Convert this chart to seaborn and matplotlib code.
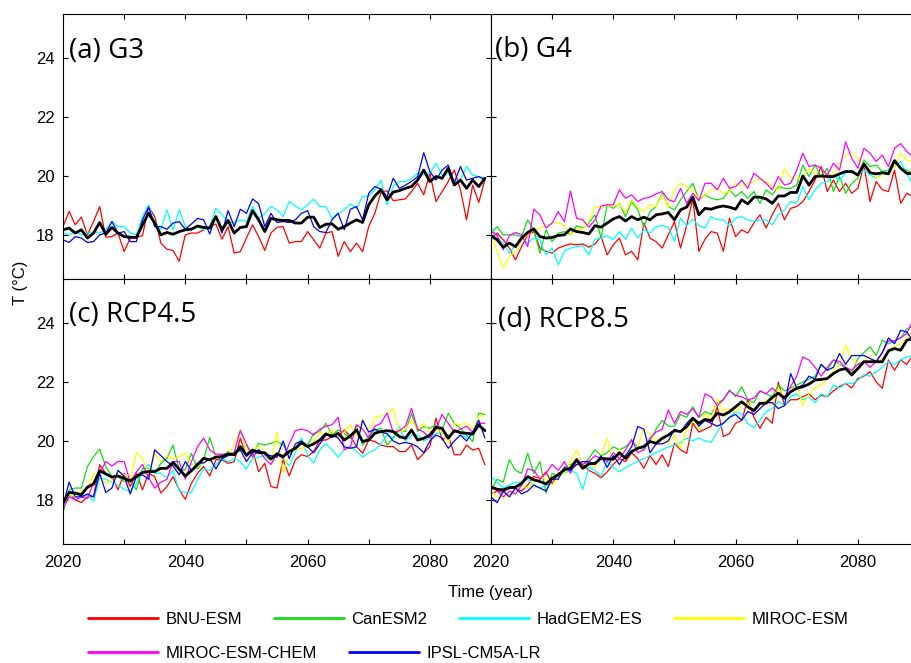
import numpy as np
import pandas as pd
import matplotlib
matplotlib.use("Agg")
import matplotlib.pyplot as plt
import seaborn as sns

# ---------------- data ----------------
years = list(range(2020, 2090))
models = ["BNU-ESM", "CanESM2", "HadGEM2-ES", "MIROC-ESM", "MIROC-ESM-CHEM", "IPSL-CM5A-LR"]
colors = ["#ff0000", "#11dd11", "#00ffff", "#ffff00", "#ff00ff", "#0000ff"]
panel_titles = ["(a) G3", "(b) G4", "(c) RCP4.5", "(d) RCP8.5"]
xtick_labels = ["2020", "", "2040", "", "2060", "", "2080", ""]
ytick_values = [18, 20, 22, 24]

# G3
g3_bnu = [18.28, 18.80, 18.34, 18.60, 18.00, 18.45, 18.96, 17.92, 17.94, 18.06,
          17.43, 17.89, 17.92, 17.97, 18.96, 18.62, 17.72, 17.51, 17.47, 17.10,
          18.00, 18.06, 18.06, 18.17, 18.28, 18.37, 17.85, 18.28, 17.38, 17.43,
          17.89, 18.34, 17.94, 17.47, 18.06, 18.26, 18.28, 17.72, 17.77, 17.77,
          18.11, 17.83, 17.55, 18.06, 18.11, 17.27, 17.77, 17.43, 17.72, 17.43,
          18.28, 18.73, 19.44, 19.50, 19.16, 19.19, 19.22, 19.47, 19.75, 19.36,
          20.09, 19.13, 19.47, 19.81, 20.20, 19.53, 18.51, 19.69, 19.10, 19.86]
g3_had = [18.06, 18.00, 18.11, 18.00, 18.06, 18.11, 18.06, 18.17, 18.45, 18.28,
          18.28, 18.06, 18.00, 18.62, 19.02, 18.40, 18.17, 18.85, 18.17, 18.85,
          18.28, 18.17, 18.28, 18.17, 18.28, 18.90, 18.68, 18.45, 18.40, 18.51,
          18.45, 18.96, 18.56, 18.73, 18.96, 18.85, 18.62, 19.13, 18.98, 18.85,
          19.02, 19.21, 18.96, 18.96, 18.56, 18.73, 18.85, 19.05, 18.90, 19.30,
          19.32, 19.53, 19.86, 19.02, 19.64, 19.81, 19.81, 19.92, 20.09, 20.03,
          20.09, 20.43, 20.03, 20.09, 19.81, 19.86, 20.32, 20.03, 19.98, 19.92]
g3_ipsl = [17.83, 17.74, 17.94, 17.89, 17.74, 17.77, 18.00, 18.06, 18.45, 18.06,
           18.11, 17.77, 17.77, 18.51, 18.94, 18.28, 18.28, 18.19, 18.40, 18.45,
           18.19, 18.37, 18.56, 18.51, 18.03, 18.64, 18.06, 18.82, 18.28, 18.87,
           18.73, 19.22, 19.05, 18.28, 18.73, 18.42, 18.45, 18.42, 18.51, 18.73,
           18.82, 18.28, 18.11, 18.08, 18.51, 18.73, 18.17, 18.87, 18.96, 18.51,
           19.41, 19.64, 19.55, 19.30, 19.92, 19.58, 19.69, 19.81, 19.98, 20.79,
           20.15, 19.86, 20.20, 20.37, 19.77, 20.32, 19.86, 19.92, 19.98, 19.86]
g3_mean = [18.17, 18.23, 18.06, 18.17, 17.89, 18.06, 18.42, 18.02, 18.25, 18.06,
           17.94, 17.92, 17.91, 18.34, 18.73, 18.40, 18.00, 18.08, 18.02, 18.11,
           18.17, 18.19, 18.30, 18.25, 18.23, 18.62, 18.17, 18.49, 18.06, 18.25,
           18.28, 18.82, 18.51, 18.11, 18.56, 18.51, 18.49, 18.49, 18.40, 18.40,
           18.60, 18.60, 18.25, 18.36, 18.37, 18.19, 18.28, 18.40, 18.51, 18.42,
           19.02, 19.32, 19.53, 19.19, 19.45, 19.50, 19.58, 19.64, 19.86, 20.20,
           19.81, 19.98, 19.92, 20.26, 19.69, 19.86, 19.58, 19.86, 19.64, 19.92]

# G4
g4_bnu = [17.89, 18.06, 17.83, 17.55, 17.15, 17.60, 18.00, 18.11, 17.55, 17.44,
          17.38, 17.55, 17.63, 17.69, 17.66, 17.69, 17.58, 17.69, 17.94, 17.32,
          17.66, 17.89, 17.32, 17.44, 17.15, 18.40, 17.89, 17.77, 17.55, 18.00,
          18.45, 17.55, 18.31, 19.24, 17.44, 17.85, 18.11, 18.06, 17.44, 18.56,
          17.94, 18.17, 18.06, 18.40, 18.68, 18.23, 18.68, 19.07, 18.51, 18.90,
          18.96, 19.13, 19.47, 19.86, 20.32, 19.47, 19.86, 19.47, 19.75, 19.41,
          19.58, 20.37, 19.13, 19.81, 19.53, 19.47, 20.20, 19.07, 19.41, 19.30]
g4_can = [18.06, 18.28, 18.00, 18.00, 18.00, 17.94, 18.51, 18.17, 17.38, 18.17,
          17.77, 18.06, 18.11, 18.00, 18.31, 18.23, 18.40, 18.68, 17.89, 19.02,
          18.90, 19.07, 18.62, 19.13, 18.85, 18.28, 18.79, 18.96, 19.41, 18.96,
          18.85, 19.19, 19.47, 19.75, 19.19, 19.36, 19.24, 19.19, 19.24, 19.53,
          19.30, 19.47, 19.24, 19.47, 19.07, 19.53, 19.36, 19.64, 19.58, 19.58,
          19.69, 20.37, 19.98, 20.37, 19.98, 20.26, 19.47, 19.98, 19.41, 19.75,
          19.92, 20.54, 20.32, 20.37, 20.15, 20.20, 20.54, 20.26, 20.20, 20.09]
g4_had = [18.23, 17.89, 17.72, 17.38, 17.66, 17.89, 17.72, 17.89, 17.83, 17.32,
          17.55, 16.98, 17.44, 17.55, 17.60, 17.63, 17.32, 17.85, 17.89, 17.97,
          17.83, 18.11, 17.85, 18.23, 17.89, 18.17, 18.06, 18.28, 18.31, 18.26,
          17.77, 18.56, 18.31, 18.53, 18.31, 18.23, 18.62, 18.51, 18.51, 18.31,
          18.56, 18.62, 18.51, 18.45, 18.51, 18.51, 18.34, 18.68, 18.85, 19.13,
          19.07, 19.64, 19.19, 19.53, 19.75, 19.81, 20.03, 19.86, 20.09, 20.20,
          20.03, 20.20, 20.03, 19.92, 20.09, 20.20, 20.32, 20.49, 20.09, 19.69]
g4_miroc = [17.94, 17.44, 16.87, 17.27, 17.44, 17.83, 18.00, 18.17, 18.23, 18.31,
            18.40, 18.42, 18.31, 18.00, 18.17, 18.19, 18.45, 18.96, 18.90, 19.02,
            18.96, 19.05, 18.76, 19.19, 18.94, 18.79, 19.02, 18.96, 19.36, 18.94,
            19.53, 19.75, 19.64, 19.47, 19.24, 19.36, 19.53, 19.58, 19.41, 19.47,
            19.75, 19.64, 19.75, 19.81, 19.92, 19.81, 19.64, 19.53, 20.26, 19.92,
            19.92, 19.98, 20.26, 20.09, 19.92, 20.09, 20.03, 20.43, 20.71, 20.77,
            20.60, 20.32, 20.20, 19.92, 20.03, 20.15, 20.32, 20.77, 20.54, 20.49]
g4_chem = [18.11, 18.00, 17.49, 17.97, 18.08, 18.00, 17.60, 18.87, 18.68, 18.23,
           18.40, 18.79, 18.45, 19.49, 18.56, 18.51, 18.26, 18.51, 18.98, 19.02,
           19.02, 19.53, 19.24, 19.36, 19.13, 19.24, 19.28, 19.39, 19.47, 19.19,
           19.13, 19.58, 19.07, 19.41, 19.16, 19.75, 19.75, 19.53, 19.92, 19.58,
           19.64, 19.86, 19.58, 20.09, 19.92, 19.75, 19.53, 19.98, 19.69, 19.75,
           20.20, 20.77, 20.32, 20.37, 20.26, 20.03, 20.43, 20.20, 21.16, 20.60,
           20.26, 20.94, 20.77, 20.49, 20.71, 20.32, 20.94, 21.10, 20.83, 20.66]
g4_mean = [17.97, 17.83, 17.58, 17.72, 17.60, 17.89, 18.08, 18.20, 17.94, 17.89,
           17.91, 17.98, 18.00, 18.20, 18.11, 18.08, 18.03, 18.31, 18.26, 18.40,
           18.54, 18.62, 18.47, 18.62, 18.51, 18.60, 18.51, 18.68, 18.71, 18.76,
           18.51, 18.85, 18.94, 19.28, 18.68, 18.90, 18.87, 18.94, 18.98, 18.94,
           18.87, 19.19, 19.05, 19.28, 19.28, 19.22, 19.07, 19.32, 19.32, 19.44,
           19.44, 20.00, 19.69, 19.98, 20.00, 19.98, 19.98, 20.07, 20.15, 20.15,
           20.03, 20.41, 20.11, 20.07, 20.11, 20.07, 20.52, 20.26, 20.09, 20.07]

# RCP4.5
r45_bnu = [17.89, 18.23, 18.00, 17.91, 18.09, 18.11, 19.19, 18.90, 18.79, 18.34,
           18.90, 18.45, 18.90, 18.34, 18.90, 18.79, 18.23, 18.45, 18.79, 18.34,
           18.02, 18.56, 18.90, 19.13, 18.81, 19.36, 19.36, 19.24, 19.30, 20.09,
           19.47, 19.69, 18.96, 19.24, 18.45, 18.40, 19.36, 18.81, 19.36, 19.53,
           19.47, 19.64, 20.03, 20.03, 20.15, 20.15, 20.37, 20.15, 19.81, 19.58,
           20.03, 19.98, 19.86, 19.81, 19.81, 19.64, 19.64, 19.86, 19.36, 19.58,
           19.81, 20.77, 20.03, 20.20, 19.53, 19.53, 19.86, 19.69, 19.75, 19.19]
r45_can = [17.55, 18.34, 18.40, 18.40, 19.13, 19.47, 19.72, 19.13, 18.79, 18.79,
           18.62, 18.68, 18.34, 19.07, 19.07, 18.90, 19.24, 19.41, 19.86, 19.02,
           19.02, 19.58, 19.04, 19.36, 20.12, 19.47, 19.36, 19.64, 19.53, 19.69,
           19.86, 19.53, 19.92, 19.86, 19.92, 19.98, 19.86, 19.53, 19.75, 20.00,
           19.86, 20.26, 20.32, 20.60, 20.20, 20.37, 20.26, 20.09, 20.54, 19.86,
           20.20, 20.37, 20.43, 19.86, 20.09, 20.37, 20.32, 20.94, 20.32, 20.49,
           20.43, 20.54, 20.37, 20.94, 20.60, 20.43, 20.20, 19.98, 20.94, 20.90]
r45_had = [18.00, 18.10, 18.20, 18.10, 18.15, 17.95, 18.75, 18.70, 18.60, 18.50,
           18.35, 18.30, 18.55, 19.00, 19.20, 18.90, 18.90, 18.75, 19.00, 18.30,
           18.25, 18.25, 18.70, 19.05, 19.00, 19.20, 19.40, 19.30, 19.40, 19.30,
           19.05, 19.40, 19.45, 19.50, 19.30, 19.60, 19.40, 19.15, 19.60, 20.10,
           19.50, 19.25, 19.70, 19.90, 19.70, 19.45, 19.70, 19.80, 19.65, 19.45,
           19.60, 19.70, 19.90, 20.20, 20.10, 20.50, 20.00, 20.20, 20.20, 20.00,
           20.10, 20.25, 20.30, 20.15, 20.30, 20.30, 20.10, 20.20, 20.50, 20.40]
r45_miroc = [17.80, 18.20, 18.10, 18.30, 18.35, 18.90, 18.80, 18.55, 18.70, 18.95,
             18.85, 18.70, 19.60, 19.40, 18.90, 19.55, 19.30, 19.50, 19.40, 19.45,
             19.60, 19.20, 19.10, 19.35, 19.30, 19.50, 19.55, 19.50, 19.90, 20.40,
             19.70, 19.70, 19.80, 19.65, 19.30, 20.30, 18.90, 19.60, 19.70, 19.75,
             19.80, 19.95, 20.30, 20.20, 20.35, 20.15, 20.30, 20.55, 20.15, 20.75,
             20.30, 20.80, 20.85, 20.90, 21.10, 20.30, 20.40, 20.70, 20.40, 20.60,
             20.30, 20.40, 20.30, 19.90, 20.60, 20.55, 20.60, 20.40, 20.85, 20.85]
r45_chem = [17.70, 18.10, 18.00, 18.10, 18.05, 18.60, 18.90, 19.30, 19.15, 19.30,
            19.30, 18.60, 18.95, 19.20, 18.75, 18.40, 18.60, 18.70, 19.30, 19.30,
            18.70, 19.30, 19.80, 20.10, 19.70, 19.55, 19.55, 19.55, 19.60, 20.35,
            19.90, 19.45, 19.70, 19.40, 19.20, 19.55, 19.40, 19.90, 20.35, 20.40,
            20.35, 20.20, 20.40, 20.50, 20.55, 20.80, 19.70, 19.80, 20.55, 20.40,
            20.10, 20.50, 20.60, 20.95, 20.30, 20.35, 20.50, 21.10, 20.40, 20.30,
            20.10, 20.40, 20.90, 20.60, 20.30, 20.40, 20.50, 20.30, 20.60, 20.60]
r45_ipsl = [17.80, 18.60, 18.10, 18.10, 18.20, 18.10, 18.90, 18.25, 18.40, 19.00,
            18.80, 18.20, 18.80, 18.85, 18.70, 19.70, 19.50, 19.30, 19.15, 18.85,
            19.30, 19.00, 19.25, 19.25, 19.40, 19.05, 19.40, 19.50, 19.55, 19.70,
            19.30, 19.60, 19.70, 19.55, 19.50, 19.45, 20.00, 19.40, 19.90, 20.00,
            19.80, 19.60, 19.90, 20.20, 20.20, 20.10, 19.80, 19.75, 19.80, 20.70,
            20.30, 20.40, 20.30, 20.25, 20.00, 19.90, 19.95, 19.90, 19.80, 19.60,
            20.00, 20.20, 20.10, 19.75, 20.00, 20.20, 20.00, 20.30, 20.70, 20.10]
r45_mean = [17.89, 18.25, 18.23, 18.17, 18.43, 18.54, 18.99, 18.88, 18.77, 18.81,
            18.73, 18.64, 18.79, 18.93, 18.96, 18.96, 19.07, 19.07, 19.27, 19.04,
            18.81, 18.99, 19.19, 19.41, 19.36, 19.45, 19.47, 19.56, 19.53, 19.81,
            19.52, 19.69, 19.60, 19.60, 19.39, 19.56, 19.47, 19.64, 19.75, 19.94,
            19.81, 19.90, 20.03, 20.24, 20.15, 20.26, 20.03, 20.17, 20.37, 19.98,
            20.03, 20.26, 20.32, 20.35, 20.32, 20.15, 20.09, 20.37, 20.03, 20.09,
            20.20, 20.46, 20.43, 20.09, 20.35, 20.28, 20.26, 20.24, 20.54, 20.35]

# RCP8.5
r85_bnu = [18.20, 18.30, 18.25, 18.45, 18.40, 18.30, 18.50, 18.80, 18.70, 18.95,
           18.55, 18.90, 19.00, 19.10, 19.20, 19.20, 19.00, 18.90, 18.75, 18.95,
           19.20, 19.40, 19.30, 19.60, 19.40, 19.07, 19.50, 19.20, 19.53, 19.13,
           19.92, 19.70, 19.58, 20.60, 20.30, 20.40, 20.50, 21.16, 20.15, 20.25,
           20.60, 20.70, 21.40, 20.80, 20.43, 20.80, 20.60, 22.00, 21.20, 21.40,
           21.40, 21.50, 21.60, 21.40, 21.55, 21.50, 21.70, 21.85, 21.95, 21.80,
           22.12, 22.20, 22.35, 22.00, 21.79, 22.75, 22.40, 22.75, 22.60, 22.90]
r85_can = [18.30, 18.70, 18.60, 19.36, 19.00, 18.90, 19.58, 18.90, 19.30, 18.23,
           18.90, 18.80, 19.10, 19.20, 19.30, 19.20, 19.40, 19.70, 19.50, 19.60,
           19.80, 19.70, 19.80, 20.00, 19.80, 19.70, 20.00, 20.40, 20.70, 20.50,
           20.50, 20.90, 20.80, 21.16, 20.80, 21.00, 20.90, 21.30, 21.40, 21.73,
           21.50, 21.84, 21.40, 21.30, 21.70, 21.60, 21.50, 21.90, 21.70, 21.80,
           21.90, 22.00, 22.10, 22.20, 22.60, 22.40, 22.75, 22.60, 22.50, 22.30,
           22.80, 23.00, 23.20, 22.90, 23.42, 23.30, 23.40, 23.50, 23.80, 23.90]
r85_had = [18.80, 18.60, 18.40, 18.50, 18.60, 18.60, 18.70, 18.50, 18.40, 18.50,
           18.70, 18.80, 18.90, 19.00, 18.90, 18.35, 19.10, 19.00, 18.80, 19.30,
           19.10, 18.95, 19.10, 19.20, 19.30, 19.40, 19.50, 19.60, 19.70, 19.80,
           19.85, 19.95, 20.10, 20.00, 20.10, 20.00, 19.95, 20.30, 20.60, 20.80,
           21.00, 20.90, 20.60, 20.45, 20.70, 21.00, 21.10, 21.35, 21.20, 21.50,
           21.60, 21.40, 21.50, 21.30, 21.60, 21.50, 21.90, 21.80, 21.95, 21.95,
           22.05, 22.25, 22.20, 22.35, 22.50, 22.70, 22.60, 22.75, 22.85, 22.90]
r85_miroc = [18.30, 18.10, 18.05, 18.20, 18.30, 18.50, 18.40, 18.60, 18.80, 18.70,
             18.50, 18.80, 18.90, 19.30, 19.70, 19.20, 19.30, 19.10, 19.50, 20.09,
             19.30, 19.70, 19.40, 19.60, 19.80, 20.43, 20.20, 20.00, 20.10, 19.90,
             20.20, 19.75, 20.40, 20.70, 20.40, 20.94, 20.70, 21.45, 21.00, 21.10,
             21.00, 21.20, 21.30, 21.00, 21.20, 21.40, 21.20, 21.80, 21.50, 21.70,
             21.90, 21.20, 21.60, 21.80, 21.90, 22.10, 22.40, 22.60, 23.25, 22.80,
             22.60, 22.70, 22.90, 22.70, 22.80, 23.00, 23.20, 23.30, 23.50, 23.70]
r85_chem = [18.50, 18.30, 18.10, 18.30, 18.20, 18.50, 19.05, 19.00, 18.70, 18.90,
            19.20, 19.00, 19.30, 18.90, 19.40, 19.20, 19.30, 19.50, 19.40, 19.30,
            19.60, 19.40, 19.70, 20.05, 19.60, 19.70, 20.10, 20.30, 20.40, 21.05,
            20.60, 21.00, 20.90, 21.10, 20.80, 21.60, 21.50, 21.20, 21.40, 21.70,
            21.55, 21.50, 21.40, 21.45, 21.70, 21.60, 21.80, 21.60, 21.50, 21.85,
            22.20, 22.85, 22.75, 22.50, 22.20, 22.50, 22.75, 22.70, 22.50, 22.40,
            22.60, 22.70, 22.50, 22.70, 23.00, 23.40, 23.40, 23.50, 23.65, 24.10]
r85_ipsl = [18.10, 17.90, 18.30, 18.10, 18.40, 18.20, 18.30, 18.50, 18.40, 18.30,
            18.70, 18.70, 19.10, 19.00, 19.20, 19.30, 19.30, 19.20, 19.50, 19.10,
            19.50, 19.20, 19.50, 19.80, 20.49, 20.40, 19.60, 19.90, 19.90, 20.00,
            20.40, 20.30, 20.60, 20.80, 20.50, 20.70, 20.60, 20.50, 20.60, 20.80,
            20.90, 20.70, 21.00, 20.90, 21.10, 21.30, 21.30, 21.10, 21.20, 22.29,
            21.80, 21.90, 22.20, 22.10, 22.60, 22.40, 22.50, 22.97, 22.60, 22.90,
            22.90, 22.90, 22.80, 22.70, 23.00, 23.50, 23.30, 23.76, 23.70, 23.40]
r85_mean = [18.43, 18.36, 18.34, 18.41, 18.43, 18.56, 18.79, 18.68, 18.62, 18.54,
            18.73, 18.85, 19.02, 19.07, 19.36, 19.07, 19.22, 19.24, 19.41, 19.39,
            19.38, 19.60, 19.41, 19.64, 19.75, 19.81, 19.98, 19.92, 20.09, 20.20,
            20.35, 20.32, 20.49, 20.77, 20.60, 20.73, 20.69, 20.94, 20.88, 20.99,
            21.16, 21.33, 21.16, 21.03, 21.28, 21.28, 21.48, 21.62, 21.45, 21.67,
            21.79, 21.84, 21.93, 22.07, 22.09, 22.12, 22.29, 22.41, 22.46, 22.24,
            22.46, 22.69, 22.69, 22.69, 22.69, 23.06, 23.14, 23.08, 23.42, 23.48]

panels = [
    ({"BNU-ESM": g3_bnu, "HadGEM2-ES": g3_had, "IPSL-CM5A-LR": g3_ipsl}, g3_mean),
    ({"BNU-ESM": g4_bnu, "CanESM2": g4_can, "HadGEM2-ES": g4_had,
      "MIROC-ESM": g4_miroc, "MIROC-ESM-CHEM": g4_chem}, g4_mean),
    ({"BNU-ESM": r45_bnu, "CanESM2": r45_can, "HadGEM2-ES": r45_had,
      "MIROC-ESM": r45_miroc, "MIROC-ESM-CHEM": r45_chem, "IPSL-CM5A-LR": r45_ipsl}, r45_mean),
    ({"BNU-ESM": r85_bnu, "CanESM2": r85_can, "HadGEM2-ES": r85_had,
      "MIROC-ESM": r85_miroc, "MIROC-ESM-CHEM": r85_chem, "IPSL-CM5A-LR": r85_ipsl}, r85_mean),
]

# ---------------- style ----------------
sns.set_style("white")
plt.rcParams["font.family"] = ["Liberation Sans", "DejaVu Sans"]
plt.rcParams["axes.linewidth"] = 0.8
plt.rcParams["text.color"] = "black"
plt.rcParams["axes.labelcolor"] = "black"
plt.rcParams["xtick.color"] = "black"
plt.rcParams["ytick.color"] = "black"

W, H = 911, 663
fig = plt.figure(figsize=(W / 100, H / 100), dpi=100)

pw, ph = 428 / W, 265 / H
positions = [
    [63 / W, 1 - 279 / H, pw, ph],
    [491 / W, 1 - 279 / H, pw, ph],
    [63 / W, 1 - 544 / H, pw, ph],
    [491 / W, 1 - 544 / H, pw, ph],
]
title_pos = [(0.014, 0.834), (0.009, 0.838), (0.014, 0.838), (0.016, 0.819)]
palette = dict(zip(models, colors))

axes = []
for i, (pos, (series, mean)) in enumerate(zip(positions, panels)):
    ax = fig.add_axes(pos)
    axes.append(ax)
    rows = []
    for m in models:
        if m in series:
            for y, v in zip(years, series[m]):
                rows.append({"year": y, "T": v, "model": m})
    df = pd.DataFrame(rows)
    order = [m for m in models if m in series]
    sns.lineplot(data=df, x="year", y="T", hue="model", hue_order=order,
                 palette=palette, estimator=None, linewidth=0.9, legend=False, ax=ax)
    sns.lineplot(x=years, y=mean, color="black", linewidth=2.0, ax=ax)
    ax.set_xlim(2020, 2090)
    ax.set_ylim(16.5, 25.5)
    ax.set_xticks(list(range(2020, 2091, 10)))
    ax.set_yticks(ytick_values)
    ax.set_xlabel("")
    ax.set_ylabel("")
    ax.tick_params(direction="in", length=3.6, width=0.8, top=True, right=True,
                   bottom=True, left=True, colors="black", labelcolor="black",
                   labelsize=12, pad=6)
    ax.tick_params(axis="x", pad=8)
    if i >= 2:
        ax.set_xticklabels(xtick_labels)
    else:
        ax.set_xticklabels([])
    if i % 2 == 0:
        ax.set_yticklabels([str(v) for v in ytick_values])
    else:
        ax.set_yticklabels([])
    for s in ax.spines.values():
        s.set_color("black")
        s.set_linewidth(0.8)
    ax.text(title_pos[i][0], title_pos[i][1], panel_titles[i], transform=ax.transAxes,
            fontsize=20, family=["Open Sans", "DejaVu Sans"], va="baseline", ha="left",
            color="black")

fig.text(490 / W, 1 - 593 / H, "Time (year)", ha="center", va="center", fontsize=12,
         color="black")
fig.text(20 / W, 1 - 283 / H, "T (\u00b0C)", ha="center", va="center", rotation=90,
         fontsize=12, color="black")

# legend from the RCP8.5 panel lines
hlines = axes[3].get_lines()[:6]
kw = dict(frameon=False, fontsize=12, handlelength=4.2, handletextpad=0.45,
          columnspacing=1.9, borderpad=0, borderaxespad=0, loc="center left",
          labelcolor="black")
leg1 = fig.legend(hlines[:4], models[:4], ncol=4, bbox_to_anchor=(88 / W, 1 - 619 / H), **kw)
leg2 = fig.legend(hlines[4:6], models[4:6], ncol=2, bbox_to_anchor=(88 / W, 1 - 653 / H), **kw)
for lg in (leg1, leg2):
    for h in lg.legend_handles:
        h.set_linewidth(2.0)

fig.savefig("out.png", dpi=100)
